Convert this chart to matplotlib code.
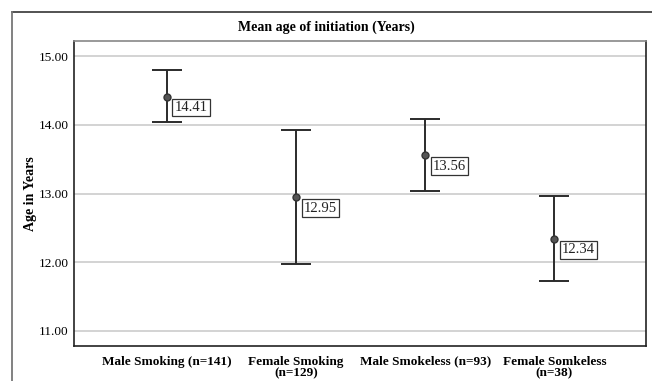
import numpy as np
import matplotlib.pyplot as plt
from matplotlib.lines import Line2D

# data
groups = ["Male Smoking (n=141)", "Female Smoking\n(n=129)",
          "Male Smokeless (n=93)", "Female Somkeless\n(n=38)"]
means = [14.41, 12.95, 13.56, 12.34]
lower = [14.04, 11.98, 13.04, 11.73]
upper = [14.80, 13.93, 14.09, 12.96]
yticks = [11, 12, 13, 14, 15]

plt.rcParams['font.family'] = ['Liberation Serif', 'DejaVu Serif']

fig = plt.figure(figsize=(6.52, 3.81), dpi=100)
ax = fig.add_axes([74 / 652, 1 - 346 / 381, 572 / 652, 305 / 381])

x = np.arange(len(groups))
means = np.array(means)
err = [means - np.array(lower), np.array(upper) - means]
ax.errorbar(x, means, yerr=err, fmt='o', color='#2b2b2b', ecolor='#2b2b2b',
            elinewidth=1.4, capsize=11, capthick=1.4, markersize=5,
            markerfacecolor='#555555', markeredgecolor='#333333', zorder=3)

for xi, m in zip(x, means):
    ax.annotate("%.2f" % m, (xi, m), xytext=(5.5, -8), textcoords='offset points',
                ha='left', va='center', fontsize=10.5, color='#222222',
                bbox=dict(boxstyle='square,pad=0.15', fc='white', ec='#333333', lw=0.9),
                zorder=4)

ax.set_xlim(-0.72, 3.71)
ax.set_ylim(10.78, 15.22)
ax.set_yticks(yticks)
ax.set_yticklabels(["%.2f" % t for t in yticks], fontsize=9.5)
ax.set_xticks(x)
ax.set_xticklabels(groups, fontsize=9.5, fontweight='bold', linespacing=0.95)
ax.tick_params(axis='both', length=0, pad=4)
ax.tick_params(axis='x', pad=7)
ax.grid(axis='y', color='#c8c8c8', lw=1.1)
ax.set_axisbelow(True)
for s in ['left', 'bottom', 'right']:
    ax.spines[s].set_color('#222222')
    ax.spines[s].set_linewidth(1.2)
ax.spines['top'].set_color('#888888')
ax.spines['top'].set_linewidth(1.2)

ax.set_ylabel("Age in Years", fontsize=10, fontweight='bold')
ax.yaxis.set_label_coords(-0.065, 0.5)
fig.text(0.5, 1 - 27 / 381, "Mean age of initiation (Years)", ha='center', va='center',
         fontsize=10, fontweight='bold')

# outer frame (top and left edges)
fig.add_artist(Line2D([12 / 652, 1], [1 - 12 / 381, 1 - 12 / 381], color='#444444', lw=1.3))
fig.add_artist(Line2D([12 / 652, 12 / 652], [0, 1 - 12 / 381], color='#777777', lw=1.3))

fig.savefig('out.png', dpi=100)
